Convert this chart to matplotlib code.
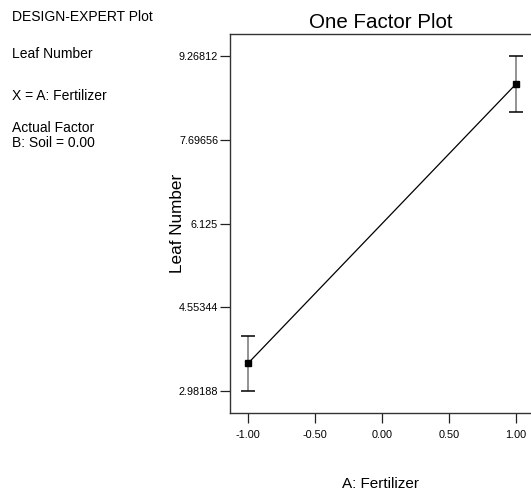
import matplotlib
matplotlib.use("Agg")
import matplotlib.pyplot as plt

plt.rcParams['font.family'] = ['Liberation Sans', 'DejaVu Sans']

# factor levels and predicted response with LSD half-widths
levels = [-1.0, 1.0]
means = [3.5, 8.75]
lsd = [0.51812, 0.51812]

yticks = [2.98188, 4.55344, 6.125, 7.69656, 9.26812]
ylabels = ['2.98188', '4.55344', '6.125', '7.69656', '9.26812']
xticks = [-1.0, -0.5, 0.0, 0.5, 1.0]
xlabels = ['-1.00', '-0.50', '0.00', '0.50', '1.00']

W, H = 531, 496
fig = plt.figure(figsize=(W / 100, H / 100), dpi=100)
ax = fig.add_axes([230 / W, 1 - 413 / H, 301 / W, (413 - 34) / H])

# gray stems, black caps
eb = ax.errorbar(levels, means, yerr=lsd, fmt='none', ecolor='#8a8a8a',
                 elinewidth=1.3, capsize=5.0, capthick=1.1)
for cap in eb[1]:
    cap.set_markeredgecolor('black')
ax.plot(levels, means, color='black', lw=0.9, marker='s', ms=4.2,
        mfc='black', mec='black')

ax.set_xlim(-1.134, 1.112)
ax.set_ylim(2.568, 9.69)
ax.set_xticks(xticks)
ax.set_xticklabels(xlabels)
ax.set_yticks(yticks)
ax.set_yticklabels(ylabels)
ax.tick_params(direction='out', length=7.5, width=0.9, labelsize=7.8,
               color='#222222')
ax.tick_params(axis='y', pad=1.0)
ax.tick_params(axis='x', pad=5.0)
ax.spines['right'].set_visible(False)
for s in ['left', 'top', 'bottom']:
    ax.spines[s].set_linewidth(1.0)
    ax.spines[s].set_color('#333333')


def px(x, y):
    return x / W, 1 - y / H


fig.text(*px(380.5, 27.7), 'One Factor Plot', fontsize=14.8,
         ha='center', va='baseline')
fig.text(*px(380, 488), 'A: Fertilizer', fontsize=11,
         ha='center', va='baseline')
fig.text(*px(177, 223), 'Leaf Number', fontsize=12.3, rotation=90,
         ha='center', va='center')

side = [
    (21.3, 'DESIGN-EXPERT Plot'),
    (58.3, 'Leaf Number'),
    (100.0, 'X = A: Fertilizer'),
    (132.3, 'Actual Factor'),
    (146.7, 'B: Soil = 0.00'),
]
for yb, txt in side:
    fig.text(*px(12, yb), txt, fontsize=10, ha='left', va='baseline')

fig.savefig('out.png', dpi=100)
